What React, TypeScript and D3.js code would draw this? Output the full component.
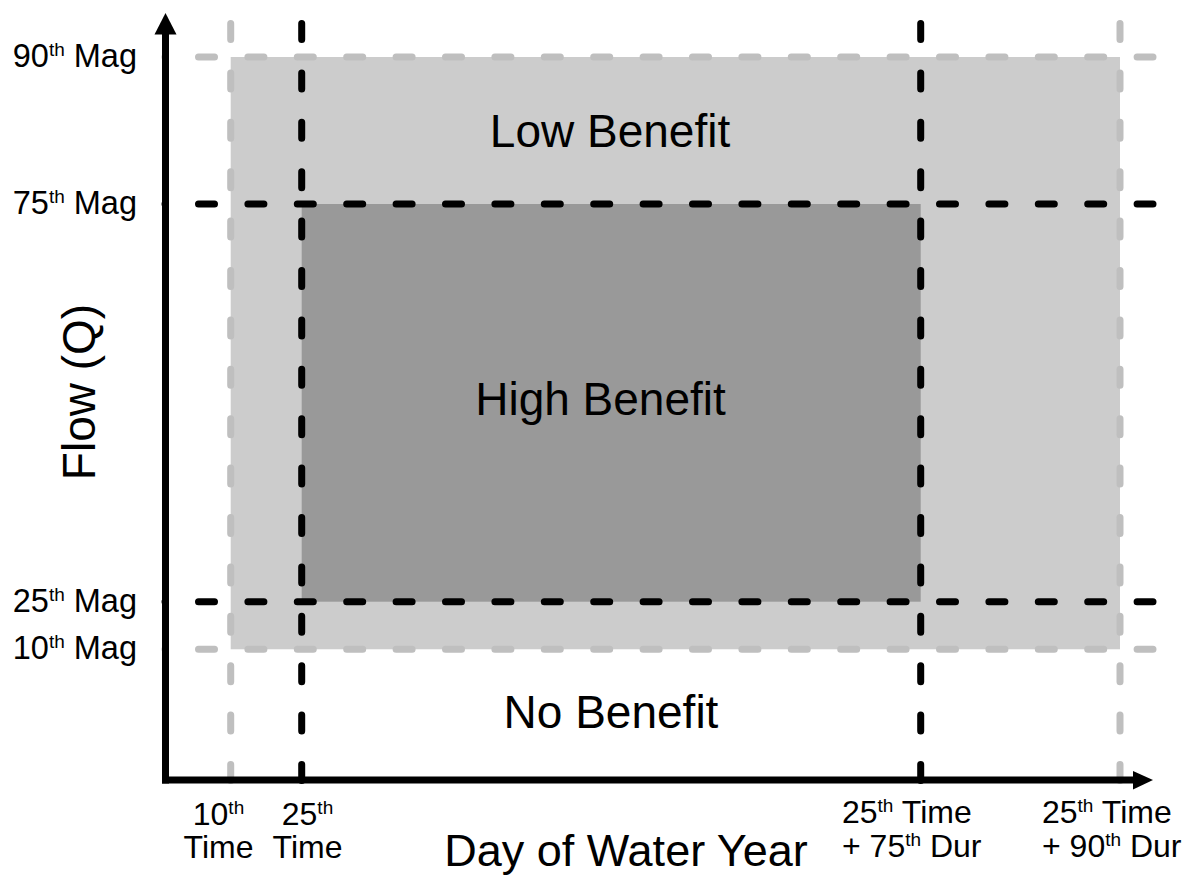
import React from "react";
import * as d3 from "d3";

// ---- data ----
const magPercentiles = ["90", "75", "25", "10"];
const magValues = [95.13, 75.79, 23.46, 17.2];
const magIsInner = [false, true, true, false];

const timeValues = [6.57, 13.67, 75.57, 95.5];
const timeIsInner = [false, true, true, false];
const timeLabelLine1 = ["10th", "25th", "25th Time", "25th Time"];
const timeLabelLine2 = ["Time", "Time", "+ 75th Dur", "+ 90th Dur"];

const regionNames = ["Low Benefit", "High Benefit", "No Benefit"];

const W = 1190;
const H = 876;

const FONT = "'Liberation Sans', Arial, Helvetica, sans-serif";

function SupText({ s, size, supSize, rise }: { s: string; size: number; supSize: number; rise: number }) {
  const idx = s.indexOf("th");
  if (idx < 0) return <tspan fontSize={size}>{s}</tspan>;
  const pre = s.slice(0, idx);
  const post = s.slice(idx + 2);
  return (
    <>
      <tspan fontSize={size}>{pre}</tspan>
      <tspan fontSize={supSize} dy={-rise}>th</tspan>
      <tspan fontSize={size} dy={rise}>{post}</tspan>
    </>
  );
}

export default function App() {
  const x = d3.scaleLinear().domain([0, 100]).range([165, 1165]);
  const y = d3.scaleLinear().domain([0, 100]).range([780, 20]);

  const axisX = 165.5;
  const axisY = 780;
  const lineStartY = 23.5;
  const lineEndY = 780.5;
  const lineStartX = 165;
  const lineEndX = 1153;

  const outerX0 = x(timeValues[0]);
  const outerX1 = x(timeValues[3]);
  const outerY0 = y(magValues[0]);
  const outerY1 = y(magValues[3]);
  const innerX0 = x(timeValues[1]);
  const innerX1 = x(timeValues[2]);
  const innerY0 = y(magValues[1]);
  const innerY1 = y(magValues[2]);

  const dash = "16 33.4";
  const gray = "#bfbfbf";
  const sw = 7;

  const hLine = (i: number) => (
    <line
      key={"h" + i}
      x1={lineStartX}
      x2={lineEndX}
      y1={y(magValues[i])}
      y2={y(magValues[i])}
      stroke={magIsInner[i] ? "#000" : gray}
      strokeWidth={sw}
      strokeDasharray={dash}
      strokeDashoffset={15.9}
      strokeLinecap="round"
    />
  );
  const vLine = (i: number) => (
    <line
      key={"v" + i}
      x1={x(timeValues[i])}
      x2={x(timeValues[i])}
      y1={lineStartY}
      y2={lineEndY}
      stroke={timeIsInner[i] ? "#000" : gray}
      strokeWidth={sw}
      strokeDasharray={dash}
      strokeLinecap="round"
    />
  );

  const timeLabelX = [218.5, 307.5, 842, 1042];
  const timeAnchor = ["middle", "middle", "start", "start"];

  return (
    <svg
      width={W}
      height={H}
      style={{ position: "absolute", left: 0, top: 0, background: "#fff" }}
      fontFamily={FONT}
    >
      <rect x={0} y={0} width={W} height={H} fill="#fff" />
      <rect x={outerX0} y={outerY0} width={outerX1 - outerX0} height={outerY1 - outerY0} fill="#cccccc" />
      <rect x={innerX0} y={innerY0} width={innerX1 - innerX0} height={innerY1 - innerY0} fill="#999999" />

      {[0, 3].map((i) => hLine(i))}
      {[0, 3].map((i) => vLine(i))}
      {[1, 2].map((i) => hLine(i))}
      {[1, 2].map((i) => vLine(i))}

      <line x1={axisX} x2={axisX} y1={33} y2={axisY + 3.5} stroke="#000" strokeWidth={sw} />
      <path d={`M${axisX},13 L${axisX - 11},34.5 L${axisX + 11},34.5 Z`} fill="#000" />
      <line x1={axisX - 3.5} x2={1135} y1={axisY} y2={axisY} stroke="#000" strokeWidth={sw} />
      <path d={`M1153,${axisY} L1133,${axisY - 9} L1133,${axisY + 9.5} Z`} fill="#000" />

      {magPercentiles.map((p, i) => (
        <text key={"ml" + i} x={137} y={y(magValues[i]) + 10} textAnchor="end" fill="#000">
          <SupText s={p + "th Mag"} size={32.5} supSize={19} rise={11} />
        </text>
      ))}

      {timeValues.map((_, i) => (
        <g key={"tl" + i}>
          <text x={timeLabelX[i]} y={i < 2 ? 825 : 823} textAnchor={timeAnchor[i] as any} fill="#000">
            <SupText s={timeLabelLine1[i]} size={32} supSize={19} rise={11} />
          </text>
          <text x={timeLabelX[i]} y={i < 2 ? 858 : 857} textAnchor={timeAnchor[i] as any} fill="#000">
            <SupText s={timeLabelLine2[i]} size={32} supSize={19} rise={11} />
          </text>
        </g>
      ))}

      <text x={610} y={147} textAnchor="middle" fontSize={46} fill="#000">{regionNames[0]}</text>
      <text x={600.5} y={415} textAnchor="middle" fontSize={46} fill="#000">{regionNames[1]}</text>
      <text x={611} y={728} textAnchor="middle" fontSize={46} fill="#000">{regionNames[2]}</text>

      <text transform="translate(95,392) rotate(-90)" textAnchor="middle" fontSize={46} fill="#000">Flow (Q)</text>
      <text x={626} y={866} textAnchor="middle" fontSize={45} fill="#000">Day of Water Year</text>
    </svg>
  );
}
